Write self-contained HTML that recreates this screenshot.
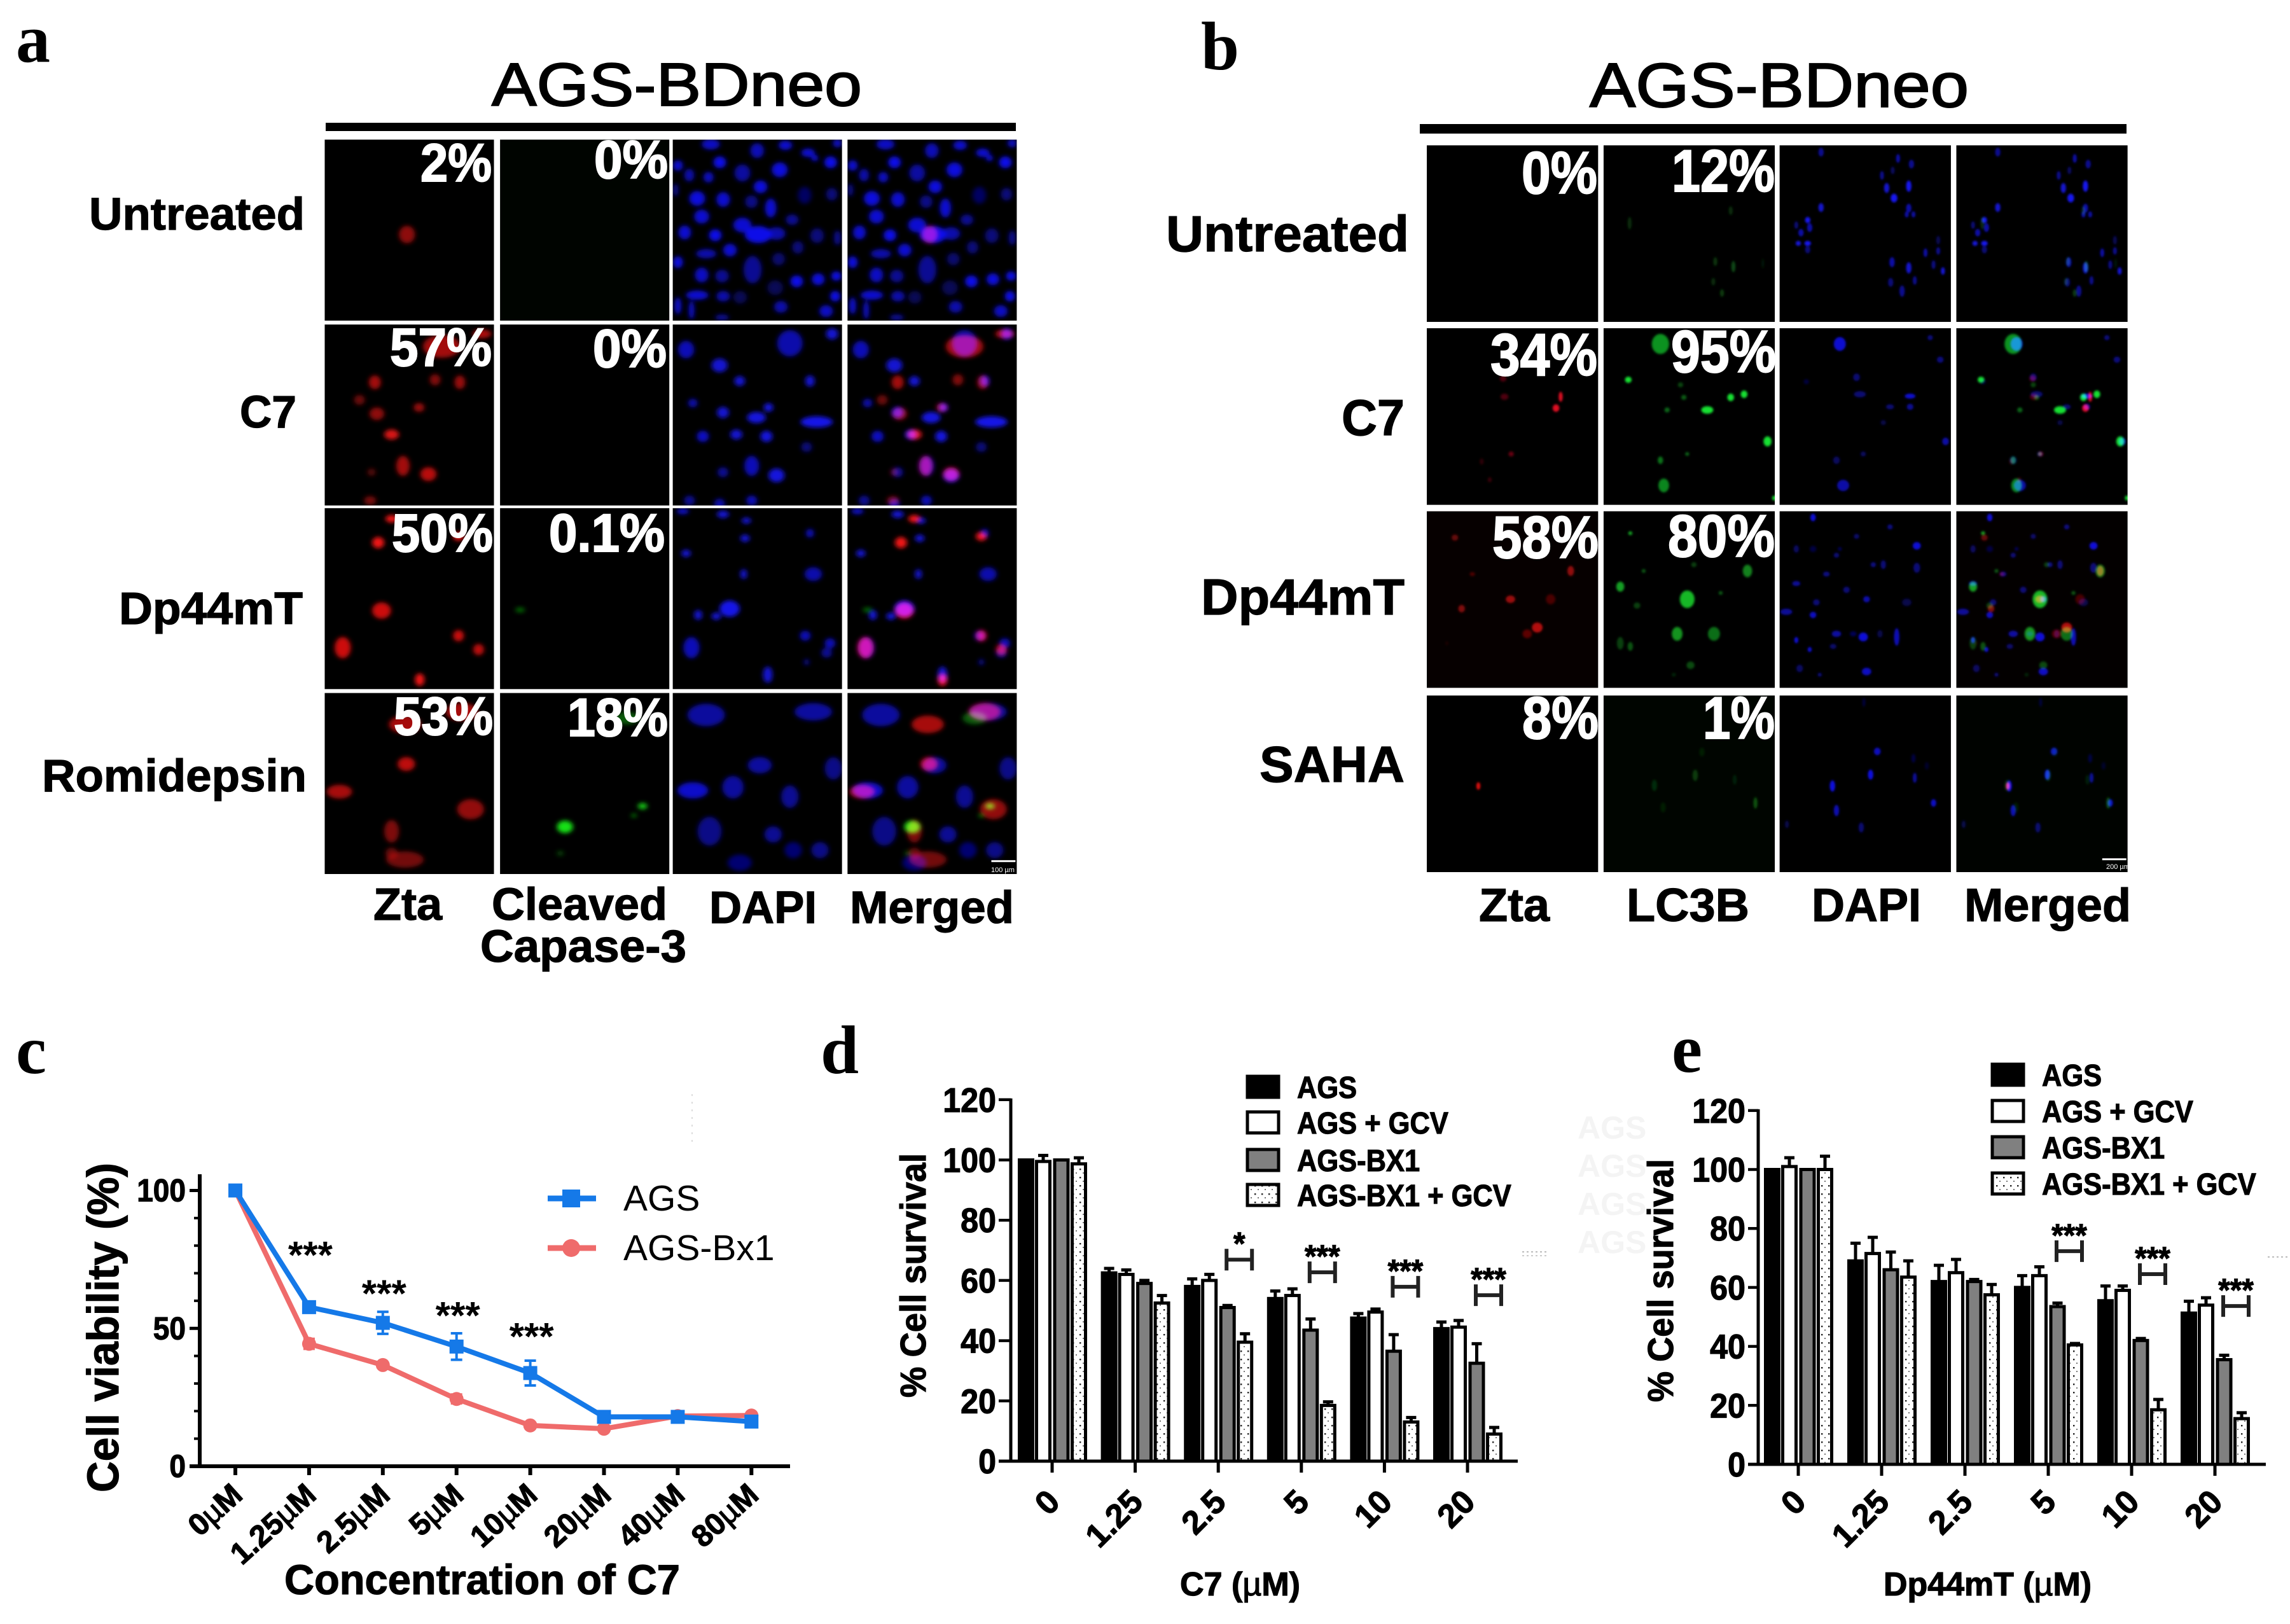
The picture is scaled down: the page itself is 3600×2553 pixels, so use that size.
<!DOCTYPE html>
<html lang="en">
<head>
<meta charset="utf-8">
<title>AGS-BDneo figure</title>
<style>
html,body{margin:0;padding:0;background:#fff}
svg{display:block}
text{font-family:"Liberation Sans",sans-serif;fill:#000}
.t{stroke:#000;stroke-width:2px}
.b{font-weight:bold;stroke:#000;stroke-width:1.2px}
.s{font-family:"Liberation Serif",serif;font-weight:bold;font-size:108px}
.w{font-weight:bold;fill:#fff;stroke:#fff;stroke-width:2px}
</style>
</head>
<body>
<svg id="fig" xmlns="http://www.w3.org/2000/svg" width="3600" height="2553" viewBox="0 0 3600 2553">
<defs>
<filter id="blurA" x="-60%" y="-60%" width="220%" height="220%"><feGaussianBlur stdDeviation="3.6"/></filter>
<filter id="blurB" x="-60%" y="-60%" width="220%" height="220%"><feGaussianBlur stdDeviation="1.8"/></filter>
<pattern id="dots" width="11" height="13" patternUnits="userSpaceOnUse"><rect width="11" height="13" fill="#fff"/><rect x="3" y="4" width="2.4" height="2.4" fill="#222"/><rect x="8" y="10" width="2" height="2" fill="#777"/></pattern>
</defs>
<rect width="3600" height="2553" fill="#fff"/>
<g id="micrographs"></g>

<!-- faint scanning artefacts -->
<g fill="#f3f3f3" font-size="50" font-weight="bold">
<text x="2480" y="1790" style="fill:#f4f4f4">AGS</text>
<text x="2480" y="1850" style="fill:#f4f4f4">AGS</text>
<text x="2480" y="1910" style="fill:#f4f4f4">AGS</text>
<text x="2480" y="1970" style="fill:#f4f4f4">AGS</text>
<line x1="2393" x2="2435" y1="1968" y2="1968" stroke="#bbb" stroke-width="2" stroke-dasharray="3 4"/>
<line x1="2393" x2="2435" y1="1974" y2="1974" stroke="#ccc" stroke-width="2" stroke-dasharray="3 4"/>
<line x1="3565" x2="3600" y1="1976" y2="1976" stroke="#bbb" stroke-width="2" stroke-dasharray="3 4"/>
<line x1="1088" x2="1088" y1="1720" y2="1800" stroke="#ddd" stroke-width="2" stroke-dasharray="3 9"/>
</g>

<!-- panel a text -->
<text class="s" x="25" y="97">a</text>
<text class="t" x="773" y="166" font-size="96" textLength="582" lengthAdjust="spacingAndGlyphs">AGS-BDneo</text>
<rect x="512" y="193" width="1085" height="13" fill="#000"/>
<text class="b" x="140" y="361" font-size="71" textLength="339" lengthAdjust="spacingAndGlyphs">Untreated</text>
<text class="b" x="377" y="672" font-size="71" textLength="89" lengthAdjust="spacingAndGlyphs">C7</text>
<text class="b" x="187" y="981" font-size="71" textLength="289" lengthAdjust="spacingAndGlyphs">Dp44mT</text>
<text class="b" x="66" y="1244" font-size="71" textLength="416" lengthAdjust="spacingAndGlyphs">Romidepsin</text>
<text class="w" x="661" y="285" font-size="84" textLength="112" lengthAdjust="spacingAndGlyphs">2%</text>
<text class="w" x="613" y="575" font-size="84" textLength="160" lengthAdjust="spacingAndGlyphs">57%</text>
<text class="w" x="616" y="867" font-size="84" textLength="159" lengthAdjust="spacingAndGlyphs">50%</text>
<text class="w" x="619" y="1155" font-size="84" textLength="156" lengthAdjust="spacingAndGlyphs">53%</text>
<text class="w" x="934" y="280" font-size="84" textLength="116" lengthAdjust="spacingAndGlyphs">0%</text>
<text class="w" x="932" y="577" font-size="84" textLength="116" lengthAdjust="spacingAndGlyphs">0%</text>
<text class="w" x="863" y="867" font-size="84" textLength="182" lengthAdjust="spacingAndGlyphs">0.1%</text>
<text class="w" x="892" y="1157" font-size="84" textLength="158" lengthAdjust="spacingAndGlyphs">18%</text>
<text class="b" x="587" y="1446" font-size="71" textLength="108" lengthAdjust="spacingAndGlyphs">Zta</text>
<text class="b" x="773" y="1446" font-size="71" textLength="276" lengthAdjust="spacingAndGlyphs">Cleaved</text>
<text class="b" x="755" y="1512" font-size="71" textLength="324" lengthAdjust="spacingAndGlyphs">Capase-3</text>
<text class="b" x="1115" y="1451" font-size="71" textLength="169" lengthAdjust="spacingAndGlyphs">DAPI</text>
<text class="b" x="1336" y="1451" font-size="71" textLength="258" lengthAdjust="spacingAndGlyphs">Merged</text>
<text x="1558" y="1371" font-size="11" style="fill:#fff">100 µm</text>

<!-- panel b text -->
<text class="s" x="1888" y="109">b</text>
<text class="t" x="2499" y="168" font-size="98" textLength="596" lengthAdjust="spacingAndGlyphs">AGS-BDneo</text>
<rect x="2232" y="195" width="1111" height="15" fill="#000"/>
<text class="b" x="1833" y="395" font-size="80" textLength="382" lengthAdjust="spacingAndGlyphs">Untreated</text>
<text class="b" x="2109" y="684" font-size="80" textLength="99" lengthAdjust="spacingAndGlyphs">C7</text>
<text class="b" x="1888" y="966" font-size="80" textLength="320" lengthAdjust="spacingAndGlyphs">Dp44mT</text>
<text class="b" x="1980" y="1229" font-size="80" textLength="228" lengthAdjust="spacingAndGlyphs">SAHA</text>
<text class="w" x="2392" y="304" font-size="94" textLength="119" lengthAdjust="spacingAndGlyphs">0%</text>
<text class="w" x="2628" y="301" font-size="94" textLength="162" lengthAdjust="spacingAndGlyphs">12%</text>
<text class="w" x="2343" y="590" font-size="94" textLength="168" lengthAdjust="spacingAndGlyphs">34%</text>
<text class="w" x="2627" y="585" font-size="94" textLength="165" lengthAdjust="spacingAndGlyphs">95%</text>
<text class="w" x="2346" y="877" font-size="94" textLength="167" lengthAdjust="spacingAndGlyphs">58%</text>
<text class="w" x="2622" y="875" font-size="94" textLength="168" lengthAdjust="spacingAndGlyphs">80%</text>
<text class="w" x="2393" y="1161" font-size="94" textLength="120" lengthAdjust="spacingAndGlyphs">8%</text>
<text class="w" x="2677" y="1161" font-size="94" textLength="113" lengthAdjust="spacingAndGlyphs">1%</text>
<text class="b" x="2325" y="1448" font-size="73" textLength="111" lengthAdjust="spacingAndGlyphs">Zta</text>
<text class="b" x="2557" y="1448" font-size="73" textLength="193" lengthAdjust="spacingAndGlyphs">LC3B</text>
<text class="b" x="2848" y="1448" font-size="73" textLength="172" lengthAdjust="spacingAndGlyphs">DAPI</text>
<text class="b" x="3088" y="1448" font-size="73" textLength="262" lengthAdjust="spacingAndGlyphs">Merged</text>
<text x="3311" y="1366" font-size="11" style="fill:#fff">200 µm</text>

<!-- panel letters and titles of charts -->
<text class="s" x="25" y="1687">c</text>
<text class="s" x="1290" y="1687">d</text>
<text class="s" x="2628" y="1685">e</text>

<text class="b" transform="translate(186,2346) rotate(-90)" font-size="70" textLength="518" lengthAdjust="spacingAndGlyphs">Cell viability (%)</text>
<text class="b" x="447" y="2506" font-size="66" textLength="622" lengthAdjust="spacingAndGlyphs">Concentration of C7</text>
<text class="b" transform="translate(1455,2197) rotate(-90)" font-size="57" textLength="384" lengthAdjust="spacingAndGlyphs">% Cell survival</text>
<text class="b" x="1855" y="2508" font-size="52" textLength="189" lengthAdjust="spacingAndGlyphs">C7 (<tspan font-weight="normal">µ</tspan>M)</text>
<text class="b" transform="translate(2630,2204) rotate(-90)" font-size="57" textLength="382" lengthAdjust="spacingAndGlyphs">% Cell survival</text>
<text class="b" x="2961" y="2508" font-size="52" textLength="327" lengthAdjust="spacingAndGlyphs">Dp44mT (<tspan font-weight="normal">µ</tspan>M)</text>

<g id="chart-c"></g>
<g id="chart-d"></g>
<g id="chart-e"></g>
</svg>

<script>
/* ---------- chart c data ---------- */
const cCategories = ['0','1.25','2.5','5','10','20','40','80'];
const cAgsValues = [100,57.7,52,43.4,33.8,17.9,17.9,16.2];
const cAgsErrors = [0,2,4,4.8,4.5,1.5,1.5,1.5];
const cBx1Values = [100,44.4,36.7,24.4,14.8,13.6,18.2,18.4];
const cBx1Errors = [0,1.8,0.8,1.6,0.8,0.8,1,1];
const cYTicks = [0,50,100];
const cYMinorTicks = [10,20,30,40,60,70,80,90];
const cSigGroups = [1,2,3,4];
const cSigLevels = [79.5,65.5,57.5,50];
const cSigLabels = ['***','***','***','***'];
const cLegend = ['AGS','AGS-Bx1'];

/* ---------- chart d data ---------- */
const dCategories = ['0','1.25','2.5','5','10','20'];
const dAgs = [100,62.5,58,54,47.5,44];
const dAgsGcv = [99.5,62,60,55,49.5,44.5];
const dBx1 = [100,59,51,43.5,36.5,32.5];
const dBx1Gcv = [98.7,52.5,39.5,18.5,13,9];
const dAgsErr = [0,1.5,2.5,2.5,1.5,2.2];
const dAgsGcvErr = [2,1.5,2,2.2,1,2.2];
const dBx1Err = [0,1,0.7,3.7,5.5,6.5];
const dBx1GcvErr = [2,2.5,2.8,1.2,1.5,2.2];
const dYTicks = [0,20,40,60,80,100,120];
const dSigGroups = [2,3,4,5];
const dSigLevels = [66.9,62.7,57.9,55.1];
const dSigLabels = ['*','***','***','***'];

/* ---------- chart e data ---------- */
const eCategories = ['0','1.25','2.5','5','10','20'];
const eAgs = [100,69,62,60,55.5,51.3];
const eAgsGcv = [101,71.5,65,64,59,54];
const eBx1 = [100,66,62,53.5,42,35.5];
const eBx1Gcv = [100,63.5,57.5,40.5,18.5,15.5];
const eAgsErr = [0,6,5.5,4,5,4];
const eAgsGcvErr = [3,5.5,4.5,3,1.5,2.5];
const eBx1Err = [0,6,0.7,1.2,0.7,1.5];
const eBx1GcvErr = [4.5,5.5,3.5,0.5,3.5,2];
const eYTicks = [0,20,40,60,80,100,120];
const eSigGroups = [3,4,5];
const eSigLevels = [72.3,64.5,53.7];
const eSigLabels = ['***','***','***'];

const legendLabels = ['AGS','AGS + GCV','AGS-BX1','AGS-BX1 + GCV'];

const NS = 'http://www.w3.org/2000/svg';
function make(tag, attrs, parent){
  const n = document.createElementNS(NS, tag);
  for (const k in attrs) n.setAttribute(k, attrs[k]);
  parent.appendChild(n);
  return n;
}
function squeeze(t, f){
  const w = t.getComputedTextLength();
  t.setAttribute('textLength', (w * f).toFixed(1));
  t.setAttribute('lengthAdjust', 'spacingAndGlyphs');
}

/* ---------- micrograph tiles (image content, not chart data): x, y, rx, ry, opacity ---------- */
const aDapiUntreated = [[190,50,40,25,.8],[395,80,30,35,.75],[520,55,30,22,.85],[620,90,30,20,.85],[650,115,15,15,.9],[750,45,20,20,.8],[45,150,22,25,.85],[230,135,28,28,.95],[720,135,28,28,.95],[95,195,22,30,.7],[180,205,22,25,.8],[330,185,35,40,.65],[495,170,35,35,.9],[410,250,30,30,.9],[35,265,12,30,.6],[130,305,35,35,.9],[245,310,30,35,.85],[370,320,28,30,.55],[455,350,25,45,.85],[605,290,30,40,.4],[725,285,25,30,.5],[150,390,33,33,.85],[550,405,28,25,.6],[330,430,40,35,.85],[400,475,60,40,.95],[480,470,40,30,.7],[75,465,28,33,.85],[210,478,28,28,.95],[660,480,30,35,.5],[750,490,15,35,.6],[575,535,25,30,.5],[275,548,30,30,.85],[170,565,45,22,.7],[45,605,22,28,.9],[490,590,28,30,.45],[375,640,40,65,.6],[150,665,30,35,.8],[240,670,30,30,.6],[475,725,35,35,.35],[570,695,28,28,.95],[665,685,28,28,.9],[745,670,22,22,.95],[130,760,50,22,.85],[245,765,30,25,.7],[320,770,30,30,.35],[740,765,22,25,.95],[500,815,30,28,.7],[700,835,30,28,.8],[45,810,15,40,.85],[105,830,12,45,.85],[240,865,30,15,.6]];
const aRed = [
 [[123,151,12,14,.8]],
 [[175,35,28,18,.75],[235,15,14,7,.8],[75,92,9,11,.75],[165,88,8,9,.6],[202,92,8,11,.7],[52,120,8,8,.5],[78,142,11,10,.65],[141,132,8,7,.7],[100,175,11,8,1],[117,225,10,16,.75],[155,238,12,11,.85],[70,235,6,6,.4],[68,280,9,7,.55]],
 [[100,17,9,6,1],[80,55,9,9,1],[200,45,8,7,1],[85,163,14,13,.85],[27,222,12,17,.85],[200,203,8,9,.85],[230,225,8,9,.8],[142,273,7,10,1]],
 [[120,50,24,14,.8],[205,30,24,14,.8],[122,113,13,11,.9],[22,157,19,11,.8],[218,185,20,16,.7],[100,220,11,18,.6],[120,265,28,13,.55],[100,255,9,9,.5]]
];
const aGreen = [
 [],
 [],
 [[30,162,7,4,.6]],
 [[190,40,18,10,.4],[97,213,12,10,1],[213,180,7,5,.9],[90,255,5,4,.3],[200,195,4,3,.6]]
];
const aBlue = [
 aDapiUntreated.map(function(c){ return [(c[0]-22)*.338,(c[1]-28)*.338,c[2]*.338,c[3]*.338,c[4]]; }),
 [[20,40,12,14,.75],[70,65,12,11,.85],[175,30,19,21,.7],[238,15,9,9,.85],[100,90,8,8,.85],[205,90,7,9,.85],[30,125,7,7,.7],[75,140,9,9,.85],[125,148,14,9,.9],[143,132,7,7,.9],[215,155,24,9,.95],[45,178,9,9,.8],[95,175,9,8,.85],[140,178,9,9,.9],[118,225,11,16,.75],[155,240,12,11,.9],[75,235,8,8,.6],[25,280,8,8,.6],[70,285,8,8,.7],[118,280,8,8,.75],[200,195,8,8,.5]],
 [[15,5,9,5,.8],[75,10,9,6,.85],[110,20,7,5,.85],[108,48,7,6,.85],[20,72,7,6,.85],[205,40,6,7,.75],[106,105,5,8,.85],[210,105,13,11,.7],[85,160,15,13,.95],[38,170,6,8,.85],[65,172,7,6,.85],[28,222,12,17,.75],[198,203,8,8,.75],[235,215,8,8,.75],[142,265,7,13,.85],[200,245,4,5,.6],[230,230,8,8,.6]],
 [[50,35,28,18,.7],[210,30,28,14,.7],[130,115,18,13,.7],[30,155,23,13,.9],[90,150,16,18,.7],[175,165,13,18,.65],[240,120,13,18,.6],[55,220,18,23,.6],[150,225,13,13,.65],[220,250,13,13,.6],[100,270,18,13,.5],[180,250,13,13,.5]]
];
const bRed = [
 [],
 [[114,80,5,5,.35],[116,109,6,5,.35],[200,109,3,8,1],[193,127,5,6,1],[126,200,4,4,.45],[82,212,3,5,.2],[94,241,3,4,.25]],
 [[42,42,5,5,.55],[68,100,4,3,.45],[52,155,5,6,.7],[125,140,7,6,.85],[165,185,8,8,1],[150,195,7,7,.5],[185,140,7,8,.4],[215,95,5,8,.8],[30,210,2,3,.15]],
 [[77,144,3,6,1]]
];
const bGreen = [
 [[39,124,3,10,.6],[190,104,3,7,.6],[167,185,3,7,.7],[194,193,3,9,1],[164,217,3,6,.6],[177,235,3,6,.8],[238,188,2,8,.3]],
 [[85,25,13,16,.65],[37,82,5,5,1],[115,90,4,4,.3],[155,130,9,6,1],[190,110,5,6,1],[210,105,5,6,1],[95,130,4,4,.45],[120,110,4,4,.4],[245,180,6,8,1],[90,250,8,11,.6],[85,210,4,6,.5],[125,200,3,3,.45],[255,270,3,4,1]],
 [[40,35,3,3,.9],[215,95,7,10,.7],[25,120,6,8,.85],[50,150,5,5,.35],[125,140,11,14,1],[25,210,5,10,.35],[110,195,8,11,.8],[165,195,9,11,.6],[40,215,4,7,.45],[130,245,6,6,.4],[175,130,3,3,.5],[60,95,3,3,.5],[135,85,4,4,.35],[105,260,3,3,.2]],
 [[137,127,4,9,.7],[76,143,4,9,.5],[227,171,3,9,1],[196,134,3,8,.35],[147,90,4,7,.3],[89,178,4,8,.3]]
];
const bBlue = [
 [[62,11,4,7,.6],[177,21,3,7,.7],[197,30,4,7,.6],[153,48,3,7,.6],[169,40,3,6,.4],[193,65,4,9,1],[160,68,4,8,.85],[171,84,5,7,1],[193,100,4,7,.7],[200,110,3,5,.7],[190,110,3,5,.7],[62,99,4,7,.85],[42,119,4,5,1],[25,127,3,6,.5],[45,131,4,7,.7],[32,139,4,6,.7],[42,156,5,4,1],[28,156,4,4,.9],[42,166,4,6,.5],[237,151,3,7,.35],[218,171,3,7,.7],[237,168,3,6,.6],[230,190,3,7,.55],[244,200,3,6,.9],[168,186,4,8,.7],[193,195,4,9,.85],[166,218,4,7,.5],[202,215,3,7,.6],[183,232,4,9,.6]],
 [[90,25,9,11,1],[40,85,4,4,.3],[115,78,5,6,.55],[120,105,9,5,.55],[195,108,8,4,1],[165,125,6,4,.55],[195,125,5,5,.7],[155,150,4,4,.35],[85,210,5,6,.45],[95,250,9,9,.8],[248,180,5,6,.8],[125,200,4,4,.45],[240,50,5,5,.6],[225,15,4,4,.6]],
 [[50,10,4,6,1],[115,40,4,4,.5],[165,25,4,4,.6],[205,55,6,6,1],[25,60,4,6,.45],[50,60,5,5,.3],[85,70,4,4,.55],[140,85,4,4,.6],[205,90,5,8,.55],[25,115,6,4,.7],[55,145,5,5,.55],[100,125,5,5,.55],[130,140,5,5,.8],[190,145,7,6,.35],[10,160,9,5,.7],[50,165,5,5,.9],[125,200,7,7,1],[85,195,7,5,.75],[175,200,4,14,.85],[25,205,3,5,1],[45,220,3,4,1],[80,215,5,4,.5],[30,250,5,6,.45],[130,255,7,6,.9],[110,195,5,4,.4],[150,195,4,6,.35],[155,85,4,7,.55],[70,100,5,4,.6],[60,260,3,3,.6],[90,60,3,3,.4]],
 [[146,89,5,6,.85],[136,126,4,8,1],[202,131,3,8,.7],[79,144,4,9,1],[85,183,4,9,.8],[230,171,4,6,.9],[122,210,4,8,.5],[11,205,3,6,.35],[200,100,3,7,.3],[220,112,3,6,.2],[126,11,2,7,.3]]
];
const aRedTone = ['#b00a0a','#d81212','#f01212','#d01212'];
const aGreenTone = ['#0a0','#0a0','#0a0','#18e018'];
const aBlueTone = ['#1010f4','#1414f4','#1414f4','#0c0ce0'];
const bRedTone = ['#900','#e00a24','#b00c0c','#e01010'];
const bGreenTone = ['#0c4a14','#16e030','#18b828','#0c5010'];
const bBlueTone = ['#1414f0','#1010d0','#1010d8','#1010e0'];

function drawPanel(key, offsetX, colXs, tileW, rowYs, tileH, R, G, B, rT, gT, bT, rowBg, filterId){
  const root = document.getElementById('micrographs');
  const panel = make('g', {transform:'translate(' + offsetX + ',0) scale(1.0523,0.9885)'}, root);
  
  
  rowYs.forEach(function(ry, r){
    colXs.forEach(function(cx, c){
      const tile = make('svg', {x:cx, y:ry, width:tileW, height:tileH}, panel);
      
      
      const bg = make('rect', {width:tileW, height:tileH, fill:(rowBg[r] && rowBg[r][c]) || '#000'}, tile);
      
      
      const channels = [];
      if (c === 0 || c === 3) channels.push([R[r], rT[r]]);
      if (c === 1 || c === 3) channels.push([G[r], gT[r]]);
      if (c === 2 || c === 3) channels.push([B[r], bT[r]]);
      channels.forEach(function(ch){
        if (!ch[0].length) return;
        const g = make('g', {filter:'url(#' + filterId + ')', fill:ch[1], style:'mix-blend-mode:screen'}, tile);
        
        
        ch[0].forEach(function(e){
          const n = make('ellipse', {cx:e[0], cy:e[1], rx:e[2], ry:e[3], 'fill-opacity':e[4]}, g);
          
          
        });
      });
      if (c === 3 && r === 3){
        const sb = make('rect', {x:tileW-38, y:tileH-22, width:36, height:3, fill:'#fff'}, tile);
        
        
      }
    });
  });
}
drawPanel('a', 0, [485,747,1005,1266], 253, [222,516,808,1102], 288, aRed, aGreen, aBlue, aRedTone, aGreenTone, aBlueTone, [['#000','#000400','#000','#000']], 'blurA');
drawPanel('b', 1780, [440,704,967,1231], 256, [231,522,813,1106], 281, bRed, bGreen, bBlue, bRedTone, bGreenTone, bBlueTone, [[],[],['#060000','#000','#000','#030000'],['#000','#000500','#000','#000300']], 'blurB');

/* ---------- chart c ---------- */
(function(){
  const root = document.getElementById('chart-c');
  const x0 = 370, dx = 115.9, y0 = 2305, perUnit = 4.335;
  const xC = function(i){ return x0 + dx * i; };
  const yC = function(v){ return y0 - perUnit * v; };

  const yAxis = make('line', {x1:314, x2:314, y1:1846, y2:y0+3, stroke:'#000','stroke-width':6}, root);
  
  
  const xAxis = make('line', {x1:298, x2:1242, y1:y0, y2:y0, stroke:'#000','stroke-width':6}, root);
  
  

  cYTicks.forEach(function(v){
    const t = make('line', {x1:298, x2:314, y1:yC(v), y2:yC(v), stroke:'#000','stroke-width':5}, root);
    
    
    const l = make('text', {x:292, y:yC(v)+17, 'text-anchor':'end','font-size':50,'class':'b'}, root);
    l.textContent = v;
    
    
    squeeze(l, .92);
  });
  cYMinorTicks.forEach(function(v){
    const t = make('line', {x1:305, x2:314, y1:yC(v), y2:yC(v), stroke:'#000','stroke-width':4}, root);
    
    
  });
  cCategories.forEach(function(c, i){
    const t = make('line', {x1:xC(i), x2:xC(i), y1:y0, y2:2319, stroke:'#000','stroke-width':6}, root);
    
    
    const l = make('text', {transform:'translate(' + (xC(i)+14) + ',2354) rotate(-42)', 'text-anchor':'end','font-size':48,'class':'b'}, root);
    
    
    l.appendChild(document.createTextNode(c));
    const u = make('tspan', {'font-weight':'normal'}, l);
    u.textContent = 'µ';
    
    
    l.appendChild(document.createTextNode('M'));
  });

  function series(name, values, errors, color, square){
    const pts = values.map(function(v, i){ return xC(i) + ',' + yC(v); }).join(' ');
    const line = make('polyline', {points:pts, fill:'none', stroke:color,'stroke-width':8}, root);
    
    
    values.forEach(function(v, i){
      if (errors[i] > 0){
        const hi = yC(v + errors[i]), lo = yC(v - errors[i]);
        const e = make('path', {d:'M' + (xC(i)-9) + ' ' + hi + 'H' + (xC(i)+9) + 'M' + xC(i) + ' ' + hi + 'V' + lo + 'M' + (xC(i)-9) + ' ' + lo + 'H' + (xC(i)+9), fill:'none', stroke:color,'stroke-width':4}, root);
        
        
      }
      const m = square
        ? make('rect', {x:xC(i)-11, y:yC(v)-11, width:22, height:22, fill:color}, root)
        : make('circle', {cx:xC(i), cy:yC(v), r:11, fill:color}, root);
      
      
    });
  }
  series('bx1', cBx1Values, cBx1Errors, '#ef6b6b', false);
  series('ags', cAgsValues, cAgsErrors, '#1579e8', true);

  cSigGroups.forEach(function(g, k){
    const s = make('text', {x:xC(g)+2, y:yC(cSigLevels[k])+33, 'text-anchor':'middle','font-size':60,'font-weight':'bold'}, root);
    s.textContent = cSigLabels[k];
    
    
  });

  const legendColors = ['#1579e8','#ef6b6b'];
  const legendStretch = [1.0,1.0];
  cLegend.forEach(function(label, i){
    const ly = 1884 + 78 * i;
    const ll = make('line', {x1:861, x2:937, y1:ly, y2:ly, stroke:legendColors[i],'stroke-width':9}, root);
    
    
    const lm = i === 0
      ? make('rect', {x:884, y:ly-14, width:28, height:28, fill:legendColors[i]}, root)
      : make('circle', {cx:898, cy:ly, r:14, fill:legendColors[i]}, root);
    
    
    const lt = make('text', {x:980, y:ly+19, 'font-size':57}, root);
    lt.textContent = label;
    
    
    squeeze(lt, legendStretch[i]);
  });
})();

/* ---------- bar charts d and e ---------- */
function barChart(root, cfg, categories, seriesValues, seriesErrors, yTicks, sigGroups, sigLevels, sigLabels){
  const xB = function(g){ return cfg.x0 + cfg.dx * g; };
  const yB = function(v){ return cfg.y0 - cfg.perUnit * v; };
  const fills = ['#000','#fff','#808080','url(#dots)'];
  const offs = [-41,-14,14.5,42];
  const barW = 21;

  seriesValues.forEach(function(vals, s){
    vals.forEach(function(v, g){
      const bx = xB(g) + offs[s];
      const err = seriesErrors[s][g];
      if (err > 0){
        const top = yB(v + err);
        const eb = make('path', {d:'M' + bx + ' ' + yB(v) + 'V' + top + 'M' + (bx-8) + ' ' + top + 'H' + (bx+8), fill:'none', stroke:'#000','stroke-width':5}, root);
        
        
      }
      const r = make('rect', {x:bx-barW/2, y:yB(v), width:barW, height:cfg.y0-yB(v), fill:fills[s], stroke:'#000','stroke-width':5}, root);
      
      
    });
  });

  const ya = make('line', {x1:cfg.axisX, x2:cfg.axisX, y1:yB(120)-2, y2:cfg.y0+2, stroke:'#000','stroke-width':5}, root);
  
  
  const xa = make('line', {x1:cfg.axisX-cfg.tickLen, x2:cfg.axisEnd, y1:cfg.y0, y2:cfg.y0, stroke:'#000','stroke-width':5}, root);
  
  

  yTicks.forEach(function(v){
    const t = make('line', {x1:cfg.axisX-cfg.tickLen, x2:cfg.axisX, y1:yB(v), y2:yB(v), stroke:'#000','stroke-width':4.5}, root);
    
    
    const l = make('text', {x:cfg.axisX-cfg.tickLen-4, y:yB(v)+19, 'text-anchor':'end','font-size':cfg.tickFont,'class':'b'}, root);
    l.textContent = v;
    
    
    squeeze(l, .93);
  });
  categories.forEach(function(c, g){
    const t = make('line', {x1:xB(g), x2:xB(g), y1:cfg.y0, y2:cfg.y0+18, stroke:'#000','stroke-width':5}, root);
    
    
    const l = make('text', {transform:'translate(' + (xB(g)+15) + ',2364) rotate(-45)', 'text-anchor':'end','font-size':52,'class':'b'}, root);
    l.textContent = c;
    
    
  });

  sigGroups.forEach(function(g, k){
    const cx = xB(g) + 33, cy = yB(sigLevels[k]);
    const br = make('path', {d:'M' + (cx-20) + ' ' + (cy-17) + 'V' + (cy+17) + 'M' + (cx-20) + ' ' + cy + 'H' + (cx+20) + 'M' + (cx+20) + ' ' + (cy-17) + 'V' + (cy+17), fill:'none', stroke:'#222','stroke-width':6}, root);
    
    
    const st = make('text', {x:cx, y:cy-8, 'text-anchor':'middle','font-size':50,'class':'b'}, root);
    st.textContent = sigLabels[k];
    
    
    squeeze(st, .95);
  });

  legendLabels.forEach(function(label, i){
    const ly = cfg.legendY[i];
    const sw = make('rect', {x:cfg.legendX+2, y:ly+2, width:cfg.legendW-4, height:33, fill:fills[i], stroke:'#000','stroke-width':5}, root);
    
    
    const lt = make('text', {x:cfg.legendText, y:ly+36, 'font-size':48,'class':'b'}, root);
    lt.textContent = label;
    
    
    squeeze(lt, .905);
  });
}

barChart(document.getElementById('chart-d'),
  {x0:1654, dx:130.6, y0:2297, perUnit:4.735, axisX:1589, axisEnd:2386, tickLen:19, tickFont:54,
   legendX:1959, legendW:53, legendText:2039, legendY:[1690,1746,1805,1860]},
  dCategories, [dAgs,dAgsGcv,dBx1,dBx1Gcv], [dAgsErr,dAgsGcvErr,dBx1Err,dBx1GcvErr], dYTicks, dSigGroups, dSigLevels, dSigLabels);

barChart(document.getElementById('chart-e'),
  {x0:2827, dx:131, y0:2302, perUnit:4.635, axisX:2764, axisEnd:3562, tickLen:16, tickFont:54,
   legendX:3130, legendW:53, legendText:3210, legendY:[1671,1728,1785,1842]},
  eCategories, [eAgs,eAgsGcv,eBx1,eBx1Gcv], [eAgsErr,eAgsGcvErr,eBx1Err,eBx1GcvErr], eYTicks, eSigGroups, eSigLevels, eSigLabels);
</script>
</body>
</html>
